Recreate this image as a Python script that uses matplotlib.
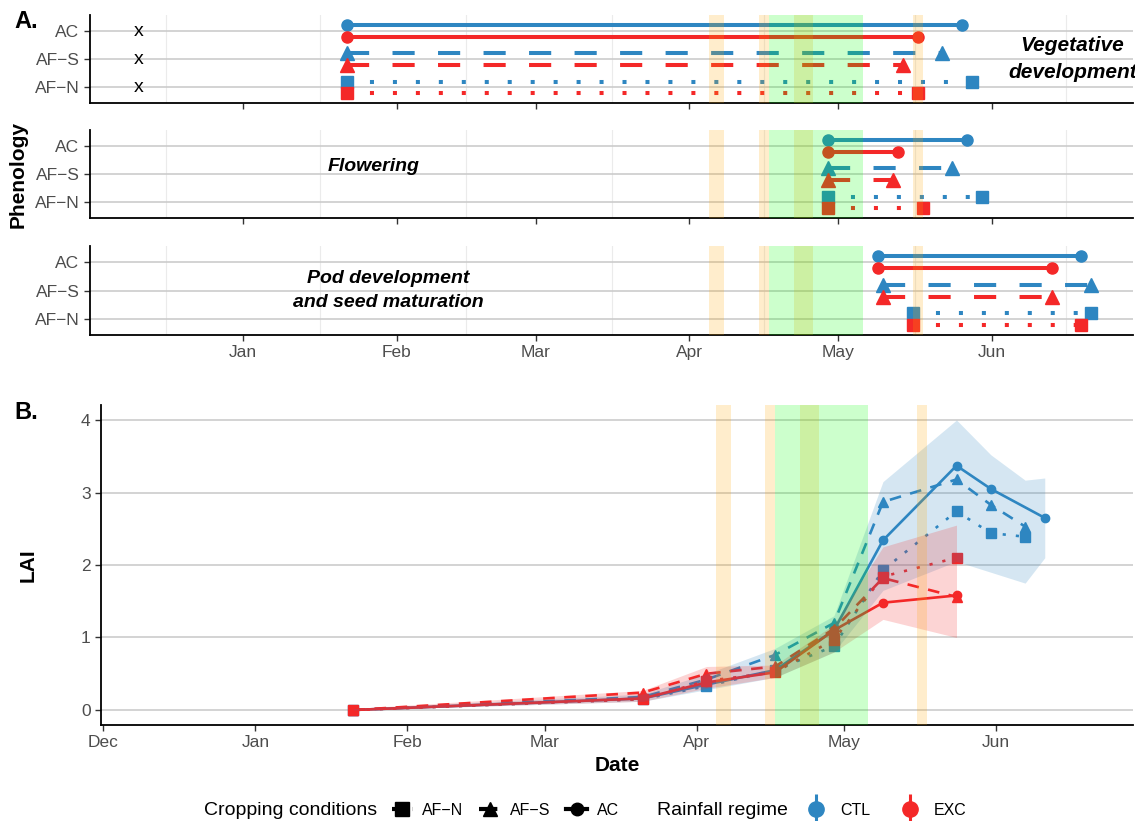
import numpy as np
import pandas as pd
import matplotlib
matplotlib.use('Agg')
import matplotlib.pyplot as plt
from matplotlib.lines import Line2D
from matplotlib.legend_handler import HandlerTuple

plt.rcParams['font.family'] = ['Liberation Sans', 'DejaVu Sans']

blue = '#2E86C1'
red = '#F42828'
tick_col = '#4D4D4D'
grid_col = '#C8C8C8'

conditions = ['AC', 'AF-S', 'AF-N']
cond_labels = ['AC', 'AF\u2212S', 'AF\u2212N']
cond_rows = [3, 2, 1]

stage_names = ['Vegetative\ndevelopment', 'Flowering', 'Pod development\nand seed maturation']

# phenology periods (start, end) for AC, AF-S, AF-N
veg_ctl = [('2021-01-22', '2021-05-26'), ('2021-01-22', '2021-05-22'), ('2021-01-22', '2021-05-28')]
veg_exc = [('2021-01-22', '2021-05-17'), ('2021-01-22', '2021-05-14'), ('2021-01-22', '2021-05-17')]
flo_ctl = [('2021-04-29', '2021-05-27'), ('2021-04-29', '2021-05-24'), ('2021-04-29', '2021-05-30')]
flo_exc = [('2021-04-29', '2021-05-13'), ('2021-04-29', '2021-05-12'), ('2021-04-29', '2021-05-18')]
pod_ctl = [('2021-05-09', '2021-06-19'), ('2021-05-10', '2021-06-21'), ('2021-05-16', '2021-06-21')]
pod_exc = [('2021-05-09', '2021-06-13'), ('2021-05-10', '2021-06-13'), ('2021-05-16', '2021-06-19')]
veg_x_marks = ['2020-12-11', '2020-12-11', '2020-12-11']

# weather event bands
orange_bands = [('2021-04-05', '2021-04-08'), ('2021-04-15', '2021-04-17'),
                ('2021-04-22', '2021-04-26'), ('2021-05-16', '2021-05-18')]
green_bands = [('2021-04-17', '2021-05-06')]

# LAI
ctl_dates_ac = ['2021-01-21', '2021-03-21', '2021-04-03', '2021-04-17', '2021-04-29',
                '2021-05-09', '2021-05-24', '2021-05-31', '2021-06-11']
ctl_dates_af = ['2021-01-21', '2021-03-21', '2021-04-03', '2021-04-17', '2021-04-29',
                '2021-05-09', '2021-05-24', '2021-05-31', '2021-06-07']
exc_dates = ['2021-01-21', '2021-03-21', '2021-04-03', '2021-04-17', '2021-04-29',
             '2021-05-09', '2021-05-24']
lai_ctl_ac = [0.0, 0.16, 0.35, 0.55, 1.10, 2.34, 3.37, 3.05, 2.65]
lai_ctl_afs = [0.0, 0.18, 0.42, 0.76, 1.20, 2.87, 3.18, 2.83, 2.53]
lai_ctl_afn = [0.0, 0.15, 0.33, 0.55, 0.88, 1.93, 2.74, 2.44, 2.39]
lai_exc_ac = [0.0, 0.16, 0.38, 0.52, 1.10, 1.48, 1.58]
lai_exc_afs = [0.0, 0.24, 0.50, 0.60, 1.12, 1.82, 1.56]
lai_exc_afn = [0.0, 0.15, 0.40, 0.52, 0.97, 1.84, 2.10]

ctl_rib_dates = ['2021-01-21', '2021-03-21', '2021-04-03', '2021-04-17', '2021-04-29',
                 '2021-05-09', '2021-05-24', '2021-05-31', '2021-06-07', '2021-06-11']
ctl_rib_low = [0.0, 0.12, 0.28, 0.45, 0.80, 1.65, 2.05, 1.90, 1.75, 2.10]
ctl_rib_high = [0.02, 0.22, 0.50, 0.85, 1.30, 3.15, 4.00, 3.52, 3.17, 3.20]
exc_rib_dates = exc_dates
exc_rib_low = [0.0, 0.12, 0.30, 0.45, 0.80, 1.25, 1.00]
exc_rib_high = [0.02, 0.27, 0.60, 0.62, 1.18, 2.25, 2.55]

months_top = ['2021-01-01', '2021-02-01', '2021-03-01', '2021-04-01', '2021-05-01', '2021-06-01']
months_bot = ['2020-12-01'] + months_top
month_names_top = ['Jan', 'Feb', 'Mar', 'Apr', 'May', 'Jun']
month_names_bot = ['Dec'] + month_names_top

T = pd.to_datetime

markers_top = {'AC': ('o', 8), 'AF-S': ('^', 10), 'AF-N': ('s', 8.5)}
markers_bot = {'AC': ('o', 6), 'AF-S': ('^', 7), 'AF-N': ('s', 6.5)}
ls_top = {'AC': '-', 'AF-S': (0, (5.5, 5.8)), 'AF-N': (0, (1, 4.7))}
ls_bot = {'AC': '-', 'AF-S': (0, (4.4, 3.6)), 'AF-N': (0, (1.2, 3.8))}


def style_axis(ax):
    for s in ['top', 'right']:
        ax.spines[s].set_visible(False)
    for s in ['left', 'bottom']:
        ax.spines[s].set_linewidth(1.3)
        ax.spines[s].set_color('black')
    ax.tick_params(axis='both', length=4, width=1.0, color='#333333',
                   labelcolor=tick_col, labelsize=12.5)


def add_bands(ax):
    for s, e in orange_bands:
        ax.axvspan(T(s), T(e), color='#FFA500', alpha=0.2, lw=0, zorder=4)
    for s, e in green_bands:
        ax.axvspan(T(s), T(e), color='#00FF00', alpha=0.2, lw=0, zorder=4)


W, H = 1135, 821
fig = plt.figure(figsize=(W / 100, H / 100), dpi=100)

top_boxes = [(15, 103), (130, 218), (246, 335)]
pheno = [(veg_ctl, veg_exc), (flo_ctl, flo_exc), (pod_ctl, pod_exc)]
top_axes = []
for i, (yt, yb) in enumerate(top_boxes):
    ax = fig.add_axes([90 / W, 1 - yb / H, 1043 / W, (yb - yt) / H])
    top_axes.append(ax)
    style_axis(ax)
    ax.set_xlim(T('2020-12-01 05:00'), T('2021-06-29 10:00'))
    ax.set_ylim(0.45, 3.57)
    # minor vertical grid at mid-months
    mstarts = pd.date_range('2020-12-01', '2021-07-01', freq='MS')
    mids = mstarts[:-1] + (mstarts[1:] - mstarts[:-1]) / 2
    for m in mids:
        ax.axvline(m, color='#EBEBEB', lw=0.8, zorder=0)
    for r in cond_rows:
        ax.axhline(r, color=grid_col, lw=1.1, zorder=0)
    add_bands(ax)
    ctl, exc = pheno[i]
    for periods, col, off in [(ctl, blue, 0.21), (exc, red, -0.21)]:
        for j, cond in enumerate(conditions):
            s, e = periods[j]
            y = cond_rows[j] + off
            ax.plot([T(s), T(e)], [y, y], color=col, lw=2.9, ls=ls_top[cond],
                    solid_capstyle='butt', dash_capstyle='butt', zorder=2)
            mk, ms = markers_top[cond]
            ax.plot([T(s), T(e)], [y, y], ls='none', marker=mk, ms=ms, color=col, zorder=2.5)
    ax.set_yticks(cond_rows)
    ax.set_yticklabels(cond_labels)
    ax.set_xticks(T(months_top))
    if i == 2:
        ax.set_xticklabels(month_names_top)
    else:
        ax.set_xticklabels([])

for j, d in enumerate(veg_x_marks):
    top_axes[0].text(T(d), cond_rows[j], 'x', ha='center', va='center', fontsize=14, color='black')

top_axes[0].text(0.942, 0.5, stage_names[0], transform=top_axes[0].transAxes, ha='center', va='center',
                 fontsize=15, fontweight='bold', fontstyle='italic', linespacing=1.55)
top_axes[1].text(0.272, 0.59, stage_names[1], transform=top_axes[1].transAxes, ha='center', va='center',
                 fontsize=14, fontweight='bold', fontstyle='italic')
top_axes[2].text(0.286, 0.5, stage_names[2], transform=top_axes[2].transAxes, ha='center', va='center',
                 fontsize=14, fontweight='bold', fontstyle='italic', linespacing=1.6)

fig.text(18 / W, 1 - 175 / H, 'Phenology', rotation=90, ha='center', va='center',
         fontsize=15, fontweight='bold')
fig.text(14 / W, 1 - 22 / H, 'A.', ha='left', va='center', fontsize=17, fontweight='bold')

# LAI panel
axb = fig.add_axes([101 / W, 1 - 725 / H, 1032 / W, 320 / H])
style_axis(axb)
axb.set_xlim(T('2020-11-30 12:00'), T('2021-06-29'))
axb.set_ylim(-0.207, 4.207)
for v in [0, 1, 2, 3, 4]:
    axb.axhline(v, color=grid_col, lw=1.1, zorder=0)
add_bands(axb)

series = [
    (ctl_dates_ac, lai_ctl_ac, 'AC', blue), (ctl_dates_af, lai_ctl_afs, 'AF-S', blue),
    (ctl_dates_af, lai_ctl_afn, 'AF-N', blue),
    (exc_dates, lai_exc_ac, 'AC', red), (exc_dates, lai_exc_afs, 'AF-S', red),
    (exc_dates, lai_exc_afn, 'AF-N', red),
]
for dates, vals, cond, col in series:
    mk, ms = markers_bot[cond]
    axb.plot(T(dates), vals, color=col, lw=1.9, ls=ls_bot[cond], marker=mk, ms=ms,
             dash_capstyle='butt', zorder=2)

axb.fill_between(T(ctl_rib_dates), ctl_rib_low, ctl_rib_high, color=blue, alpha=0.2, lw=0, zorder=3)
axb.fill_between(T(exc_rib_dates), exc_rib_low, exc_rib_high, color=red, alpha=0.2, lw=0, zorder=3)

axb.set_xticks(T(months_bot))
axb.set_xticklabels(month_names_bot)
axb.set_yticks([0, 1, 2, 3, 4])
axb.set_xlabel('Date', fontsize=15, fontweight='bold', labelpad=4)
fig.text(28 / W, 1 - 565 / H, 'LAI', rotation=90, ha='center', va='center',
         fontsize=15, fontweight='bold')
fig.text(14 / W, 1 - 412 / H, 'B.', ha='left', va='center', fontsize=17, fontweight='bold')

# legends
ly = 1 - 810 / H
fig.text(204 / W, ly, 'Cropping conditions', ha='left', va='center', fontsize=14)
cond_handles = [Line2D([], [], color='black', ls=ls_bot[c], lw=3, marker=markers_bot[c][0],
                       ms=markers_bot[c][1] + 3, dash_capstyle='butt')
                for c in ['AF-N', 'AF-S', 'AC']]
leg1 = fig.legend(cond_handles, ['AF\u2212N', 'AF\u2212S', 'AC'], loc='center left',
                  bbox_to_anchor=(384 / W, ly), ncol=3, frameon=False, fontsize=11.5,
                  handlelength=1.3, handletextpad=0.6, columnspacing=1.0, borderpad=0)
fig.text(657 / W, ly, 'Rainfall regime', ha='left', va='center', fontsize=14)
rain_handles = []
for col in [blue, red]:
    rain_handles.append((Line2D([], [], color=col, marker='|', ls='none', ms=22, mew=2.2),
                         Line2D([], [], color=col, marker='o', ls='none', ms=11)))
leg2 = fig.legend(rain_handles, ['CTL', 'EXC'], loc='center left', bbox_to_anchor=(800 / W, ly),
                  ncol=2, frameon=False, fontsize=11.5, handlelength=1.0, handletextpad=1.0,
                  columnspacing=2.0, borderpad=0,
                  handler_map={tuple: HandlerTuple(ndivide=1, pad=0)})

fig.savefig('out.png', dpi=100)
